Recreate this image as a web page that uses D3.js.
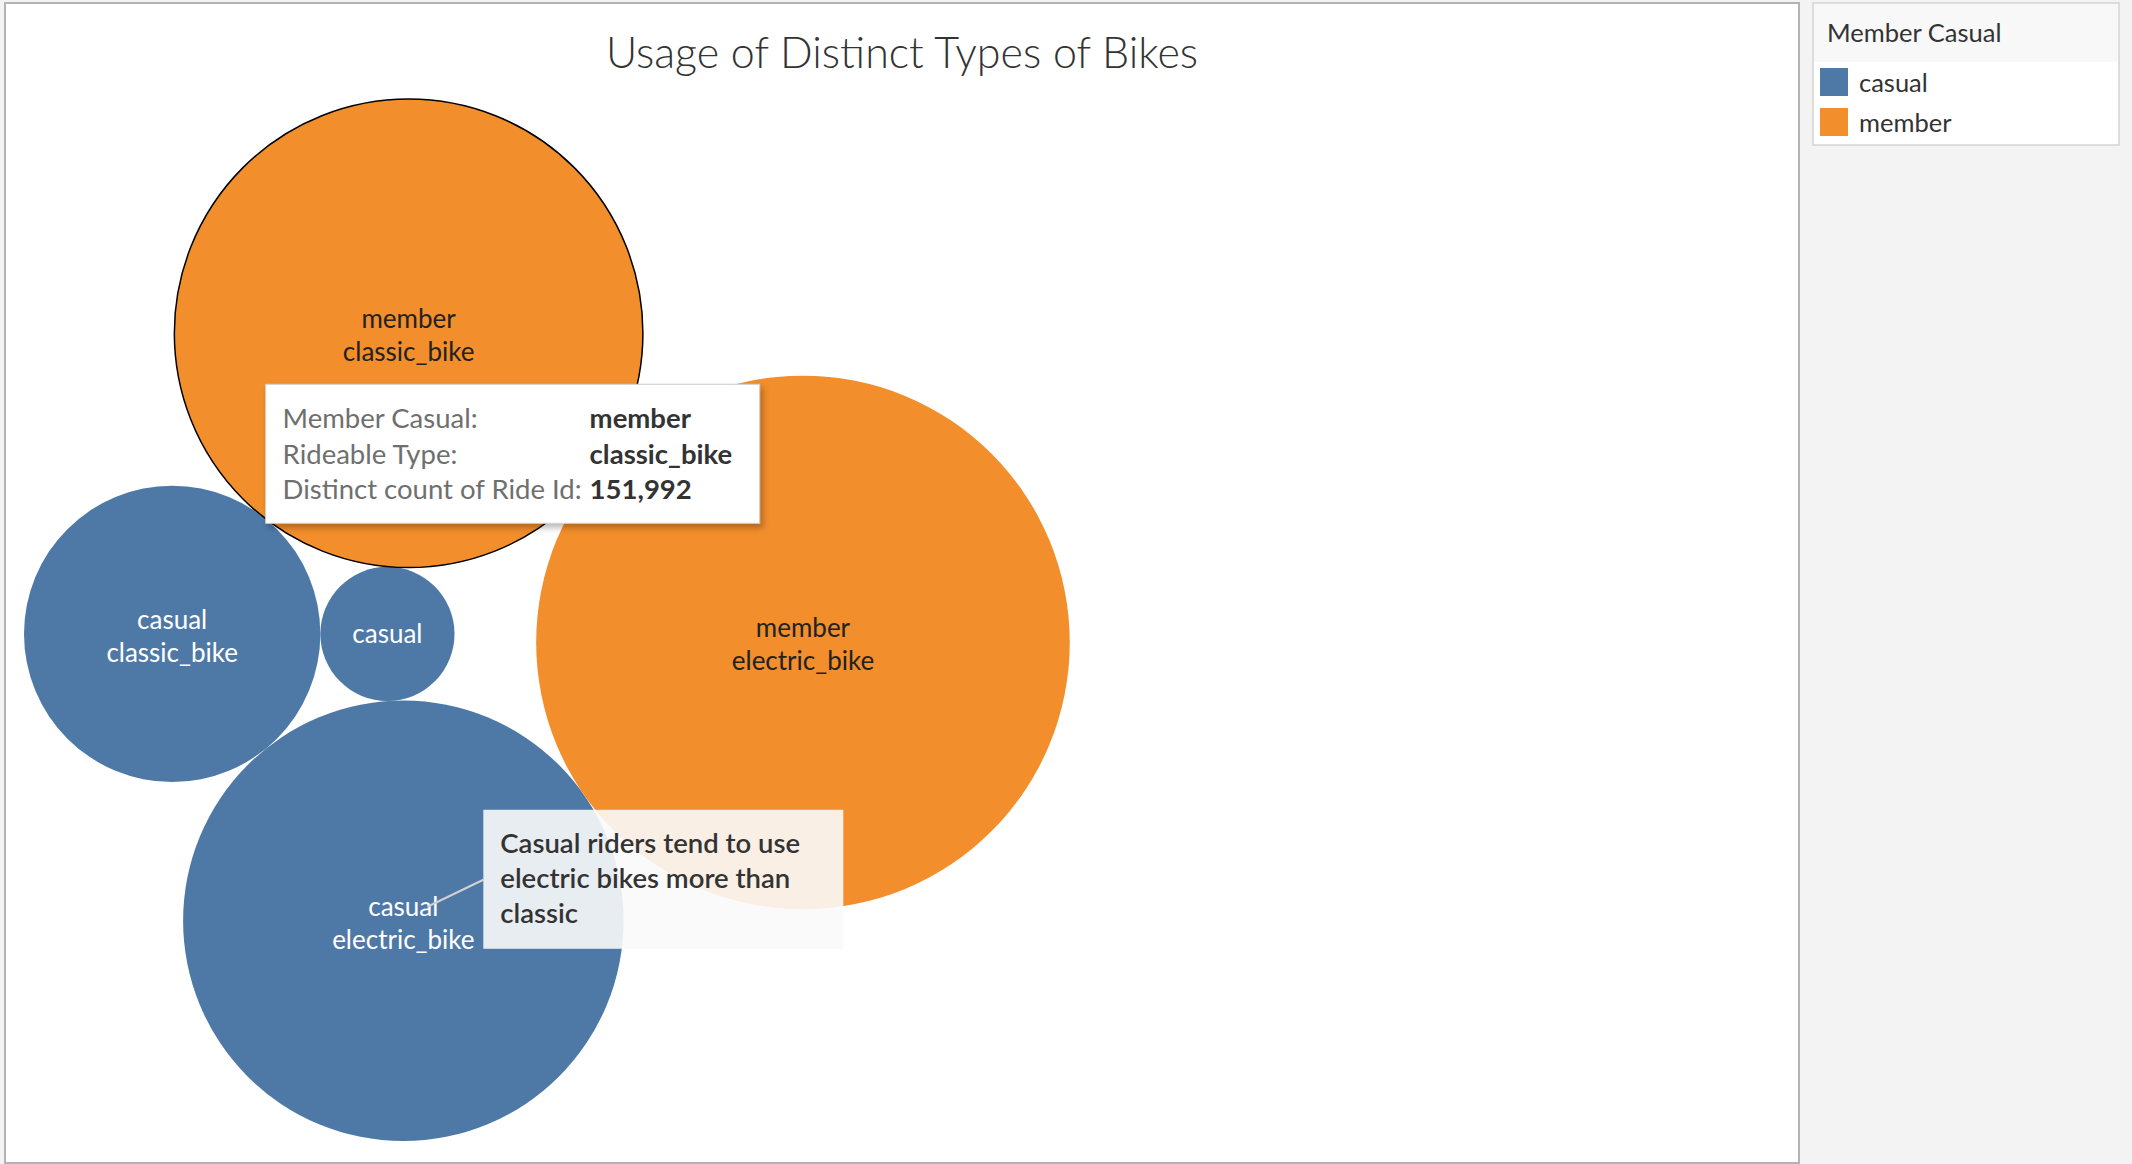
<!DOCTYPE html>
<html>
<head>
<meta charset="utf-8">
<script src="https://cdn.jsdelivr.net/npm/d3@7"></script>
<style>
  body { margin: 0; background: #f3f3f3; }
  svg { display: block; font-family: Lato, "Open Sans", sans-serif; }
</style>
</head>
<body>
<svg id="chart" width="2132" height="1164"></svg>
<script>
const MEMBER_TYPES = ['casual', 'casual', 'casual', 'member', 'member'];
const RIDEABLE_TYPES = ['classic_bike', 'docked_bike', 'electric_bike', 'classic_bike', 'electric_bike'];
const RIDE_COUNTS = [60800, 12460, 134300, 151992, 197100];
const LEGEND_ITEMS = ['casual', 'member'];
const LEGEND_COLORS = ['#4e79a7', '#f28e2b'];
// pack order: each bubble rests on the bubbles listed (indices of earlier ones)
const PACK_TOUCHES = [[], [0], [0, 1], [1, 0], [2, 3]];
const SELECTED = 3; // bubble with the tooltip open
const NOTE_ON = 2;  // bubble the annotation points at
const NOTE_LINES = ['Casual riders tend to use', 'electric bikes more than', 'classic'];

const W = 2132, H = 1164;
const PANE = {x: 5, y: 3, w: 1794, h: 1160};
const BUBBLE_AREA = {left: 24, top: 99, bottom: 1141};

const svg = d3.select('#chart');

const defs = svg.append('defs');
defs.append('filter').attr('id', 'tip-shadow')
    .attr('x', '-10%').attr('y', '-10%').attr('width', '125%').attr('height', '140%')
    .append('feDropShadow')
    .attr('dx', 3).attr('dy', 4).attr('stdDeviation', 3)
    .attr('flood-color', '#000').attr('flood-opacity', 0.28);

// pane
svg.append('rect')
    .attr('x', PANE.x).attr('y', PANE.y).attr('width', PANE.w).attr('height', PANE.h)
    .attr('fill', '#fff').attr('stroke', '#b3b3b3').attr('stroke-width', 2);

svg.append('text')
    .attr('x', PANE.x + PANE.w / 2).attr('y', 68)
    .attr('text-anchor', 'middle')
    .attr('font-size', 43).attr('font-weight', 300).attr('fill', '#333')
    .text('Usage of Distinct Types of Bikes');

// ---- packed bubble layout ----
const color = d3.scaleOrdinal().domain(LEGEND_ITEMS).range(LEGEND_COLORS);

const bubbles = RIDE_COUNTS.map((v, i) => ({
    member: MEMBER_TYPES[i], ride: RIDEABLE_TYPES[i], value: v, i: i
}));

function placeTangent(a, b, c) {
    const dx = b.x - a.x, dy = b.y - a.y, d = Math.hypot(dx, dy);
    const ra = a.r + c.r, rb = b.r + c.r;
    const along = (d * d + ra * ra - rb * rb) / (2 * d);
    const h = Math.sqrt(Math.max(0, ra * ra - along * along));
    const ux = dx / d, uy = dy / d;
    c.x = a.x + along * ux - h * uy;
    c.y = a.y + along * uy + h * ux;
}

function layout(rScale) {
    bubbles.forEach((b, i) => {
        b.r = rScale(b.value);
        const t = PACK_TOUCHES[i];
        if (t.length === 0) { b.x = 0; b.y = 0; }
        else if (t.length === 1) { const a = bubbles[t[0]]; b.x = a.x + a.r + b.r; b.y = a.y; }
        else placeTangent(bubbles[t[0]], bubbles[t[1]], b);
    });
    return {
        x0: d3.min(bubbles, b => b.x - b.r), x1: d3.max(bubbles, b => b.x + b.r),
        y0: d3.min(bubbles, b => b.y - b.r), y1: d3.max(bubbles, b => b.y + b.r)
    };
}

const maxCount = d3.max(RIDE_COUNTS);
const r = d3.scaleSqrt().domain([0, maxCount]).range([0, 1]);
let box = layout(r);
r.range([0, (BUBBLE_AREA.bottom - BUBBLE_AREA.top) / (box.y1 - box.y0)]);
box = layout(r);
const offX = BUBBLE_AREA.left - box.x0, offY = BUBBLE_AREA.top - box.y0;
bubbles.forEach(b => { b.x += offX; b.y += offY; });

const g = svg.append('g');
g.selectAll('.bubble')
    .data(bubbles)
    .enter()
    .append('circle')
    .attr('class', 'bubble')
    .attr('cx', d => d.x)
    .attr('cy', d => d.y)
    .attr('r', d => d.r)
    .attr('fill', d => color(d.member))
    .attr('stroke', d => d.i === SELECTED ? '#000' : 'none')
    .attr('stroke-width', 1.5);

// labels: two lines if they fit in the bubble, otherwise only the first
const LABEL_SIZE = 26, LINE_GAP = 33;
const labels = g.selectAll('.bubble-label')
    .data(bubbles)
    .enter()
    .append('text')
    .attr('class', 'bubble-label')
    .attr('text-anchor', 'middle')
    .attr('font-size', LABEL_SIZE)
    .attr('fill', d => d.member === 'casual' ? '#fff' : '#222');

labels.each(function(d) {
    const t = d3.select(this);
    const probe = t.append('tspan').text(d.ride);
    const w = probe.node().getComputedTextLength();
    probe.remove();
    const fits = (w / 2) ** 2 + LINE_GAP ** 2 < d.r * d.r;
    if (fits) {
        t.append('tspan').attr('x', d.x).attr('y', d.y - 5).text(d.member);
        t.append('tspan').attr('x', d.x).attr('y', d.y - 5 + LINE_GAP).text(d.ride);
    } else {
        t.append('tspan').attr('x', d.x).attr('y', d.y + 9).text(d.member);
    }
});

// ---- annotation ----
const nb = bubbles[NOTE_ON];
const note = {x: nb.x + 80, y: nb.y - 111, w: 360, h: 139};
g.append('line')
    .attr('x1', nb.x + 24).attr('y1', nb.y - 14)
    .attr('x2', note.x).attr('y2', note.y + 70)
    .attr('stroke', '#d0d0d0').attr('stroke-width', 2);
g.append('rect')
    .attr('x', note.x).attr('y', note.y).attr('width', note.w).attr('height', note.h)
    .attr('fill', '#f9f9f9').attr('fill-opacity', 0.9);
g.append('text')
    .attr('font-size', 27.5).attr('font-weight', 600).attr('fill', '#333')
    .selectAll('tspan')
    .data(NOTE_LINES)
    .enter()
    .append('tspan')
    .attr('x', note.x + 17)
    .attr('y', (d, i) => note.y + 43 + i * 35)
    .text(d => d);

// ---- tooltip on selected bubble ----
const sb = bubbles[SELECTED];
const tip = {x: sb.x - 143, y: sb.y + 51, w: 494, h: 139};
const tipRows = [
    ['Member Casual:', sb.member],
    ['Rideable Type:', sb.ride],
    ['Distinct count of Ride Id:', d3.format(',')(sb.value)]
];
const tipG = svg.append('g');
tipG.append('rect')
    .attr('x', tip.x).attr('y', tip.y).attr('width', tip.w).attr('height', tip.h)
    .attr('fill', '#fff').attr('stroke', '#cfcfcf').attr('stroke-width', 1)
    .attr('filter', 'url(#tip-shadow)');
const rows = tipG.selectAll('.tip-row')
    .data(tipRows)
    .enter()
    .append('g')
    .attr('class', 'tip-row')
    .attr('transform', (d, i) => `translate(0, ${tip.y + 44 + i * 35.5})`);
rows.append('text')
    .attr('x', tip.x + 17)
    .attr('font-size', 27.5).attr('fill', '#6f6f6f')
    .text(d => d[0]);
rows.append('text')
    .attr('x', tip.x + 324)
    .attr('font-size', 27.5).attr('font-weight', 700).attr('fill', '#333')
    .text(d => d[1]);

// ---- legend ----
const LEG = {x: 1813, y: 3, w: 306, h: 142, head: 59};
const leg = svg.append('g');
leg.append('rect')
    .attr('x', LEG.x).attr('y', LEG.y).attr('width', LEG.w).attr('height', LEG.h)
    .attr('fill', '#fff').attr('stroke', '#d4d4d4').attr('stroke-width', 1.5);
leg.append('rect')
    .attr('x', LEG.x + 1).attr('y', LEG.y + 1).attr('width', LEG.w - 2).attr('height', LEG.head - 1)
    .attr('fill', '#f8f8f8');
leg.append('text')
    .attr('x', LEG.x + 14).attr('y', 42)
    .attr('font-size', 25.5).attr('fill', '#333')
    .text('Member Casual');
const legItems = leg.selectAll('.leg-item')
    .data(LEGEND_ITEMS)
    .enter()
    .append('g')
    .attr('class', 'leg-item')
    .attr('transform', (d, i) => `translate(${LEG.x + 7}, ${68 + i * 40})`);
legItems.append('rect')
    .attr('width', 28).attr('height', 28)
    .attr('fill', d => color(d));
legItems.append('text')
    .attr('x', 39).attr('y', 24)
    .attr('font-size', 25.5).attr('fill', '#333')
    .text(d => d);
</script>
</body>
</html>
